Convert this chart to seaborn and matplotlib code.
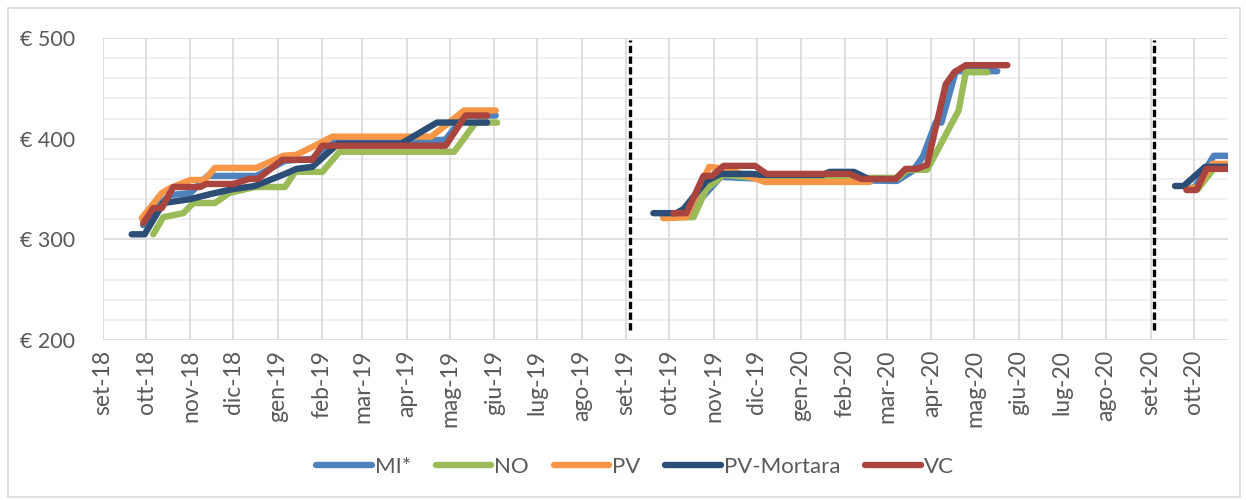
import matplotlib
matplotlib.use('Agg')
import matplotlib.pyplot as plt
from matplotlib.lines import Line2D
from matplotlib.patches import Rectangle
import seaborn as sns
import pandas as pd
import numpy as np

zones = ['MI*', 'NO', 'PV', 'PV-Mortara', 'VC']
colors = ['#4f81bd', '#9bbb59', '#f79646', '#2c4d75', '#a9443f']

# price series, one list of dates and one of values per zone (three seasons each)
mi_dates = ['2018-09-29', '2018-10-11', '2018-10-18', '2018-11-01', '2018-11-13', '2018-12-17',
            '2019-01-06', '2019-01-25', '2019-02-10', '2019-03-29', '2019-04-28', '2019-05-11', '2019-06-02',
            '2019-09-27', '2019-10-13', '2019-11-06', '2019-12-06', '2020-03-08', '2020-03-19', '2020-03-26',
            '2020-04-04', '2020-04-08', '2020-04-18', '2020-05-17',
            '2020-09-26', '2020-10-02', '2020-10-15', '2020-10-25']
mi_prices = [314, 336, 344, 346, 363, 363,
             378, 380, 397, 397, 399, 423, 423,
             322, 324, 362, 360, 358, 368, 382,
             416, 416, 467, 467,
             350, 352, 383, 383]

no_dates = ['2018-10-06', '2018-10-13', '2018-10-27', '2018-11-03', '2018-11-18', '2018-11-28', '2018-12-16',
            '2019-01-06', '2019-01-13', '2019-02-01', '2019-02-13', '2019-05-04', '2019-05-19', '2019-06-03',
            '2019-10-01', '2019-10-18', '2019-10-27', '2019-11-08', '2019-12-01', '2020-03-09', '2020-03-15',
            '2020-03-29', '2020-04-20', '2020-04-25', '2020-05-10',
            '2020-09-27', '2020-10-04', '2020-10-16', '2020-10-25']
no_prices = [305, 322, 326, 336, 336, 346, 352,
             352, 367, 367, 387, 387, 416, 416,
             322, 322, 350, 364, 361, 361, 369,
             369, 428, 466, 466,
             349, 350, 372, 372]

pv_dates = ['2018-09-28', '2018-10-12', '2018-10-18', '2018-11-01', '2018-11-11', '2018-11-18', '2018-12-17',
            '2019-01-05', '2019-01-14', '2019-01-31', '2019-02-08', '2019-04-18', '2019-05-11', '2019-06-02',
            '2019-09-27', '2019-10-13', '2019-10-29', '2019-11-10', '2019-12-07', '2020-02-18',
            '2020-09-27', '2020-10-04', '2020-10-14', '2020-10-25']
pv_prices = [321, 346, 351, 359, 359, 371, 371,
             383, 384, 396, 402, 402, 428, 428,
             321, 322, 372, 370, 357, 357,
             350, 352, 375, 375]

pvm_dates = ['2018-09-21', '2018-09-30', '2018-10-13', '2018-11-01', '2018-11-15', '2018-12-01', '2018-12-16',
             '2019-01-06', '2019-01-14', '2019-01-25', '2019-02-12', '2019-03-28', '2019-04-22', '2019-05-27',
             '2019-09-20', '2019-10-06', '2019-10-11', '2019-10-27', '2019-11-06', '2019-11-27', '2019-12-06',
             '2020-01-16', '2020-01-21', '2020-02-07', '2020-02-17',
             '2020-09-18', '2020-09-24', '2020-10-09', '2020-10-25']
pvm_prices = [305, 305, 336, 340, 345, 350, 353,
              365, 370, 372, 395, 395, 416, 416,
              326, 326, 330, 358, 365, 365, 364,
              364, 367, 367, 360,
              353, 353, 372, 372]

vc_dates = ['2018-09-29', '2018-10-06', '2018-10-12', '2018-10-20', '2018-11-08', '2018-11-12', '2018-12-01',
            '2018-12-12', '2018-12-18', '2019-01-04', '2019-01-25', '2019-02-01', '2019-04-28', '2019-05-12',
            '2019-05-27',
            '2019-10-04', '2019-10-13', '2019-10-25', '2019-10-31', '2019-11-08', '2019-11-30', '2019-12-08',
            '2020-02-04', '2020-02-12', '2020-03-07', '2020-03-14', '2020-03-22', '2020-03-29', '2020-04-11',
            '2020-04-17', '2020-04-25', '2020-05-24',
            '2020-09-26', '2020-10-03', '2020-10-10', '2020-10-25']
vc_prices = [316, 331, 331, 352, 352, 355, 355,
             360, 360, 379, 379, 393, 393, 423,
             423,
             326, 326, 363, 363, 373, 373, 365,
             365, 360, 360, 370, 370, 374, 454,
             466, 473, 473,
             349, 349, 370, 370]

month_names = ['set', 'ott', 'nov', 'dic', 'gen', 'feb', 'mar', 'apr', 'mag', 'giu', 'lug', 'ago']
y_ticks = [200, 300, 400, 500]
season_breaks = ['2019-09-04', '2020-09-03']

frames = []
for zone, dates, prices in zip(zones,
                               [mi_dates, no_dates, pv_dates, pvm_dates, vc_dates],
                               [mi_prices, no_prices, pv_prices, pvm_prices, vc_prices]):
    frames.append(pd.DataFrame({'zone': zone, 'date': pd.to_datetime(dates), 'price': prices}))
df = pd.concat(frames, ignore_index=True)
df['season'] = np.searchsorted(pd.to_datetime(season_breaks).values, df['date'].values)

sns.set_style('white')
plt.rcParams['font.family'] = ['Lato', 'DejaVu Sans']

fig, ax = plt.subplots(figsize=(12.46, 5.0), dpi=100)
fig.subplots_adjust(left=0.0827, right=0.9856, top=0.924, bottom=0.32)

x_start, x_end = pd.Timestamp('2018-09-01'), pd.Timestamp('2020-10-25')
months = pd.date_range(x_start, '2020-10-01', freq='MS')

# gridlines like Excel: light minor every 20, month verticals
for v in range(200, 501, 20):
    ax.axhline(v, color='#d9d9d9' if v % 100 == 0 else '#eeeeee', lw=1.2, zorder=0)
for m in months:
    ax.axvline(m, color='#d9d9d9', lw=1.2, zorder=0)

sns.lineplot(data=df, x='date', y='price', hue='zone', units='season', estimator=None,
             hue_order=zones, palette=colors, sort=False, lw=4.6, legend=False,
             solid_capstyle='round', solid_joinstyle='round', ax=ax, zorder=3)

for b in pd.to_datetime(season_breaks):
    ax.axvline(b, ymin=0.033, ymax=0.993, color='black', lw=2.4, ls=(0, (2.2, 1.0)), zorder=4)

ax.set_xlim(x_start, x_end)
ax.set_ylim(200, 500)
ax.set_xticks(months)
ax.set_xticklabels([f"{month_names[(m.month - 9) % 12]}-{m.strftime('%y')}" for m in months],
                   rotation=90, fontsize=16.5, color='#595959')
ax.set_yticks(y_ticks)
ax.set_yticklabels([f'€ {v}' for v in y_ticks], fontsize=15.5, color='#595959')
ax.tick_params(axis='x', length=4, width=1.2, color='#d9d9d9', pad=3)
ax.tick_params(axis='y', length=0, pad=20)
ax.set_xlabel('')
ax.set_ylabel('')
for s in ax.spines.values():
    s.set_visible(False)

handles = [Line2D([0], [0], color=c, lw=4.6, solid_capstyle='round') for c in colors]
fig.legend(handles, zones, loc='center', bbox_to_anchor=(635 / 1246, 1 - 467 / 500), ncol=5,
           frameon=False, fontsize=16, handlelength=2.5, handletextpad=0.15, columnspacing=1.1,
           labelcolor='#595959')

fig.patches.append(Rectangle((8 / 1246, 3 / 500), 1232 / 1246, 489 / 500, transform=fig.transFigure,
                             fill=False, edgecolor='#d9d9d9', lw=1.2))

fig.savefig('out.png', dpi=100)
